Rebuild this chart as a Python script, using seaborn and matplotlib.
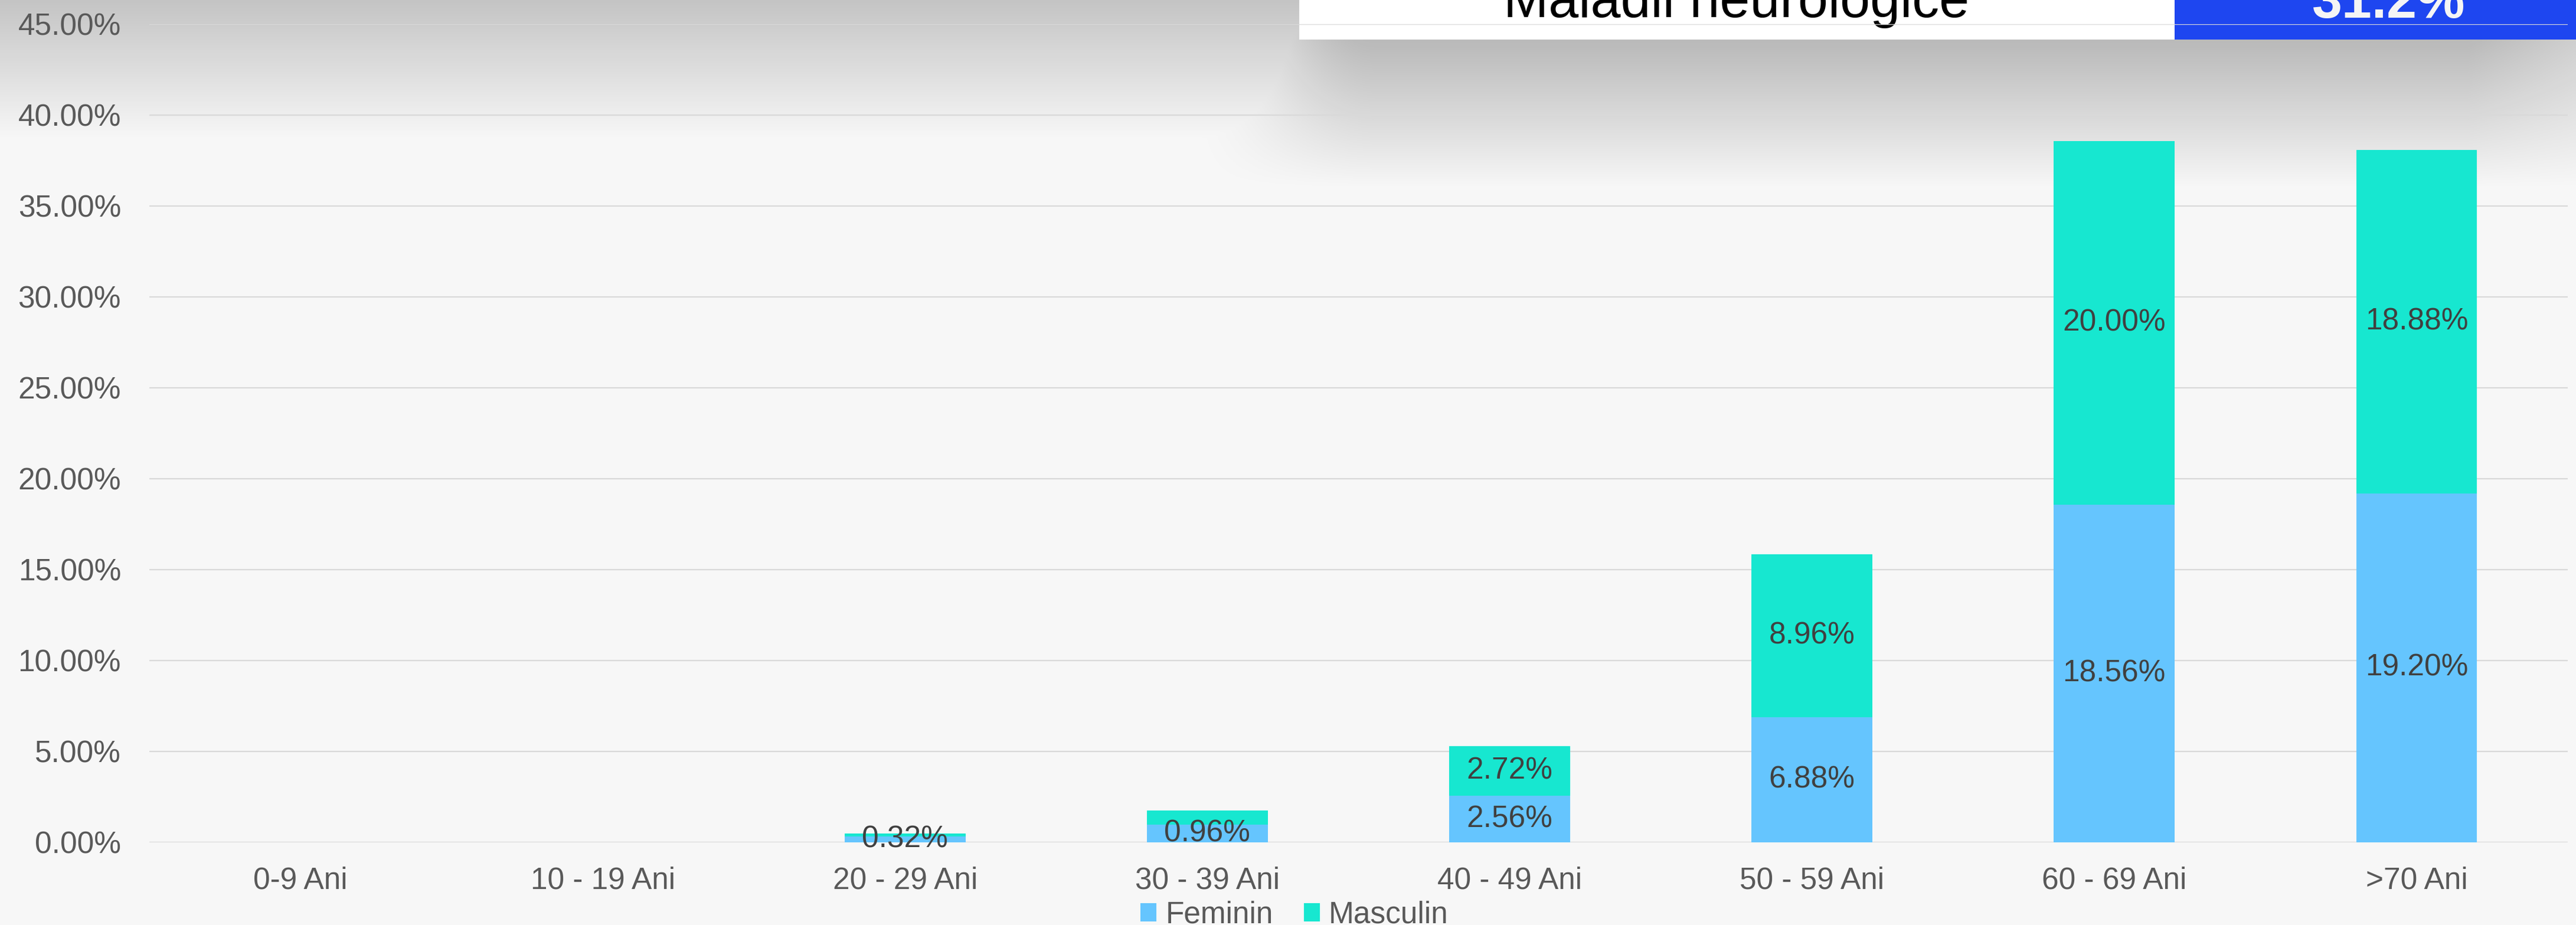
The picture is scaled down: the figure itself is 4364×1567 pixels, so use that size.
import numpy as np
import pandas as pd
import matplotlib
matplotlib.use('Agg')
import matplotlib.pyplot as plt
from matplotlib.patches import Rectangle
from matplotlib.ticker import FuncFormatter, MultipleLocator
import seaborn as sns

# date
grupe = ['0-9 Ani', '10 - 19 Ani', '20 - 29 Ani', '30 - 39 Ani',
         '40 - 49 Ani', '50 - 59 Ani', '60 - 69 Ani', '>70 Ani']
feminin = [0, 0, 0.32, 0.96, 2.56, 6.88, 18.56, 19.20]
masculin = [0, 0, 0.16, 0.80, 2.72, 8.96, 20.00, 18.88]
# etichetele afisate pe bare ('' = nu se vede)
etichete_fem = ['', '', '0.32%', '0.96%', '2.56%', '6.88%', '18.56%', '19.20%']
etichete_masc = ['', '', '', '', '2.72%', '8.96%', '20.00%', '18.88%']
tabel_titlu = 'Maladii neurologice'
tabel_valoare = '31.2%'

cul_fem = '#65C5FE'
cul_masc = '#17E7D0'
text_cul = '#595959'

sns.set_style('white')
plt.rcParams['font.family'] = ['Liberation Sans', 'DejaVu Sans']

W, H = 4364, 1567
fig = plt.figure(figsize=(W / 100, H / 100), dpi=100)
fig.patch.set_facecolor('#F7F7F7')

# fundal: umbra + tabelul de sus
bg = fig.add_axes([0, 0, 1, 1], zorder=0)
yy, xx = np.mgrid[0:H:4, 0:W:4].astype(float)
dA = np.clip(51 * (1 - yy / 235), 0, None)
fx = np.clip((xx - 2000) / 330, 0, 1)
fx = fx * fx * (3 - 2 * fx)
fr = 1 - 0.35 * np.clip((xx - 4180) / 184, 0, 1)
dB = np.clip(62 * (1 - (yy - 67) / 250), 0, 62) * fx * fr
d = np.maximum(dA, dB)
rgba = np.zeros(yy.shape + (4,))
rgba[..., 3] = d / 247
bg.imshow(rgba, extent=(0, W, H, 0), interpolation='bilinear', aspect='auto')
bg.add_patch(Rectangle((2201, 0), 1483, 67, facecolor='white', edgecolor='none'))
bg.add_patch(Rectangle((3684, 0), 680, 67, facecolor='#1E46F0', edgecolor='none'))
bg.text(2942, 29, tabel_titlu, ha='center', va='baseline', fontsize=66, color='black')
bg.text(4047, 30, tabel_valoare, ha='center', va='baseline', fontsize=66,
        color='#F5F5F5', fontweight='bold')
bg.set_xlim(0, W)
bg.set_ylim(H, 0)
bg.axis('off')

# graficul
ax = fig.add_axes([253 / W, 1 - 1427 / H, (4350 - 253) / W, (1427 - 41) / H], zorder=1)
ax.patch.set_alpha(0)

df = pd.DataFrame({'grupa': grupe, 'Feminin': feminin, 'Masculin': masculin})
sns.barplot(data=df, x='grupa', y='Feminin', color=cul_fem, saturation=1,
            width=0.4, linewidth=0, label='Feminin', ax=ax)
sns.barplot(data=df, x='grupa', y='Masculin', bottom=df['Feminin'].values,
            color=cul_masc, saturation=1, width=0.4, linewidth=0,
            label='Masculin', ax=ax)

ax.bar_label(ax.containers[0], labels=etichete_fem, label_type='center',
             fontsize=37, color='#404040')
ax.bar_label(ax.containers[1], labels=etichete_masc, label_type='center',
             fontsize=37, color='#404040')

ax.set_ylim(0, 45)
ax.yaxis.set_major_locator(MultipleLocator(5))
ax.yaxis.set_major_formatter(FuncFormatter(lambda v, p: f'{v:.2f}%'))
ax.grid(axis='y', color='#D9D9D9', linewidth=1.6)
ax.set_axisbelow(True)
for s in ax.spines.values():
    s.set_visible(False)
ax.set_xlabel('')
ax.set_ylabel('')
ax.tick_params(axis='y', length=0, pad=34.5, labelsize=37, labelcolor=text_cul)
ax.tick_params(axis='x', length=0, pad=29, labelsize=37, labelcolor=text_cul)

leg = ax.get_legend()
if leg is not None:
    leg.remove()
handles, labels = ax.get_legend_handles_labels()
fig.legend(handles, labels, loc='center', bbox_to_anchor=(2193 / W, 0.0108),
           ncol=2, frameon=False, fontsize=37, handlelength=0.53,
           handleheight=0.53, handletextpad=0.3, columnspacing=1.0,
           borderpad=0, labelcolor=text_cul)

fig.savefig('out.png', dpi=100, facecolor=fig.get_facecolor())
